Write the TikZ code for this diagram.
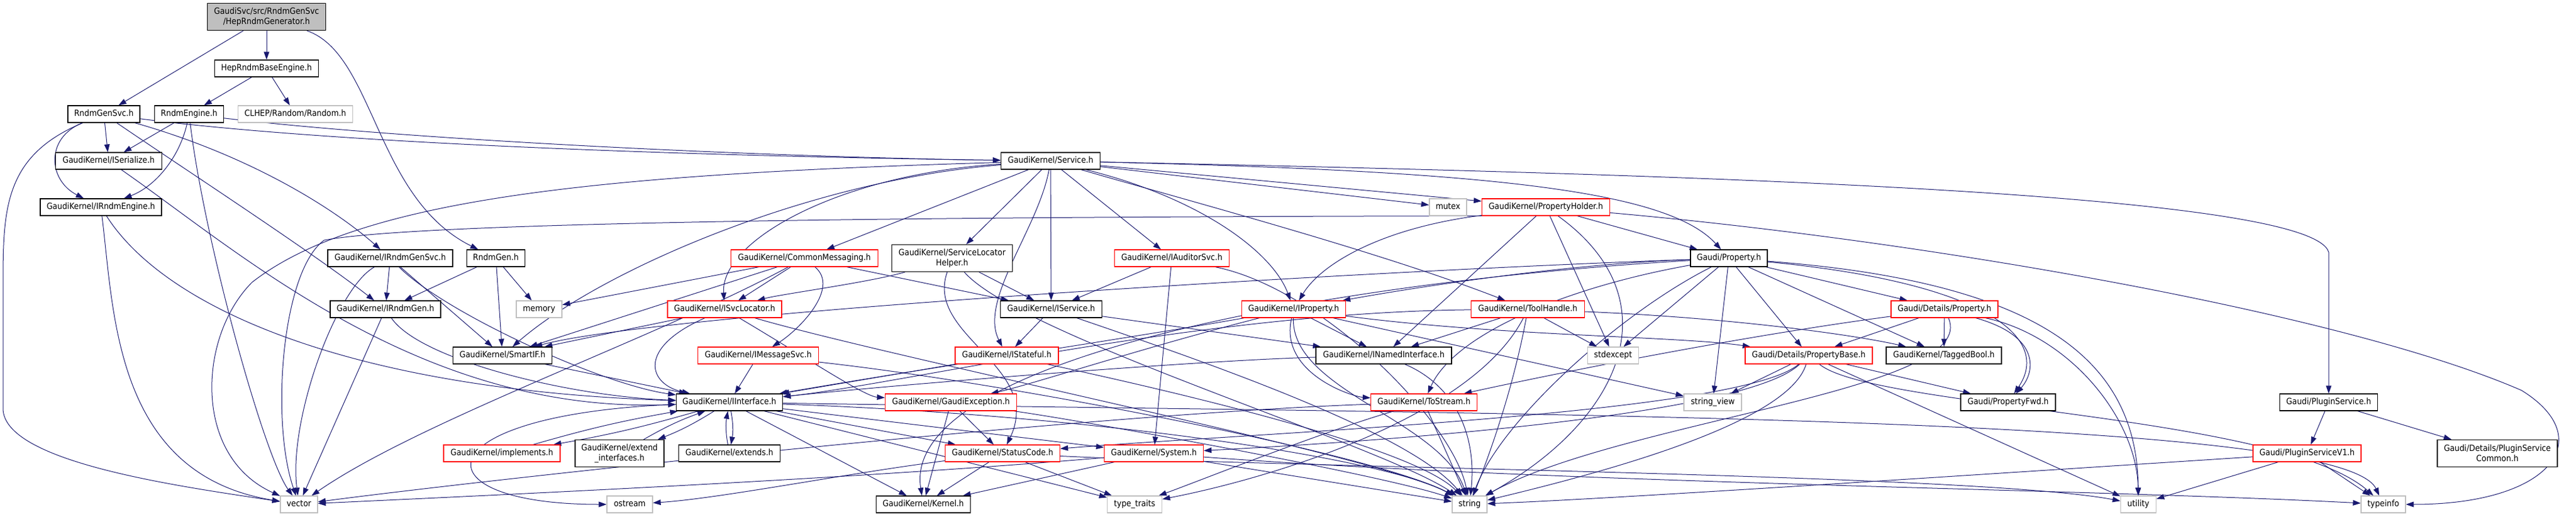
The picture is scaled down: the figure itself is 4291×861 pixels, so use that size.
\documentclass[tikz,border=0pt]{standalone}
\usepackage{fontspec}
\setmainfont{DejaVu Sans}[FakeStretch=0.9]
\usetikzlibrary{arrows.meta,backgrounds}
\definecolor{edgec}{HTML}{191970}
\definecolor{grayb}{HTML}{BFBFBF}
\definecolor{redb}{HTML}{FF0000}
\newcommand{\gfont}{\fontsize{14.3}{16.7}\selectfont}
\begin{document}
\begin{tikzpicture}[x=1pt,y=-1pt,
  nbase/.style={line width=1.2pt, fill=white, inner sep=0pt, font=\gfont},
  nd/.style={nbase, draw=black, minimum height=28pt, text height=10.5pt, text depth=3pt},
  nred/.style={nd, draw=redb},
  ngray/.style={nd, draw=grayb},
  ndtwo/.style={nbase, draw=black, minimum height=45pt, align=center},
  dep/.style={draw=edgec, line width=1pt, -{Triangle[length=13pt,width=9pt]}},
]
\useasboundingbox (0,0) rectangle (4291,861);

\node[ndtwo, fill=grayb, minimum width=197pt] (top) at (444,28) {GaudiSvc/src/RndmGenSvc\\/HepRndmGenerator.h};
\node[nd, minimum width=173pt] (hbe) at (444,114) {HepRndmBaseEngine.h};
\node[nd, minimum width=120pt] (rgs) at (173,190) {RndmGenSvc.h};
\node[nd, minimum width=115pt] (reng) at (315,190) {RndmEngine.h};
\node[ngray, minimum width=191pt] (clhep) at (492,190) {CLHEP/Random/Random.h};
\node[nd, minimum width=177pt] (iser) at (181,268) {GaudiKernel/ISerialize.h};
\node[nd, minimum width=202pt] (ireng) at (168,345) {GaudiKernel/IRndmEngine.h};
\node[nd, minimum width=208pt] (irgs) at (650,430) {GaudiKernel/IRndmGenSvc.h};
\node[nd, minimum width=97pt] (rgen) at (826,430) {RndmGen.h};
\node[nd, minimum width=184pt] (irgen) at (642,515) {GaudiKernel/IRndmGen.h};
\node[ngray, minimum width=62pt] (vector) at (498,840) {vector};
\node[ngray, minimum width=76pt] (memory) at (898,515) {memory};
\node[nred, minimum width=190pt] (isvcloc) at (1207,515) {GaudiKernel/ISvcLocator.h};
\node[nred, minimum width=245pt] (cmsg) at (1340,430) {GaudiKernel/CommonMessaging.h};
\node[nd, minimum width=165pt] (smartif) at (837,592) {GaudiKernel/SmartIF.h};
\node[nred, minimum width=201pt] (imsg) at (1263,592) {GaudiKernel/IMessageSvc.h};
\node[nd, minimum width=177pt] (iint) at (1215,670) {GaudiKernel/IInterface.h};
\node[nred, minimum width=194pt] (impl) at (836,755) {GaudiKernel/implements.h};
\node[ndtwo, minimum width=148pt] (extif) at (1032,755) {GaudiKernel/extend\\\_interfaces.h};
\node[nd, minimum width=169pt] (extends) at (1215,755) {GaudiKernel/extends.h};
\node[ngray, minimum width=76pt] (ostream) at (1049,840) {ostream};
\node[nd, minimum width=165pt] (service) at (1750,268) {GaudiKernel/Service.h};
\node[ndtwo, minimum width=201pt] (slh) at (1586,430) {GaudiKernel/ServiceLocator\\Helper.h};
\node[nred, minimum width=191pt] (iaud) at (1952,430) {GaudiKernel/IAuditorSvc.h};
\node[nd, minimum width=169pt] (iservice) at (1751,515) {GaudiKernel/IService.h};
\node[nred, minimum width=172pt] (istate) at (1677,592) {GaudiKernel/IStateful.h};
\node[nred, minimum width=219pt] (gexc) at (1584,670) {GaudiKernel/GaudiException.h};
\node[nred, minimum width=191pt] (sc) at (1670,755) {GaudiKernel/StatusCode.h};
\node[nred, minimum width=165pt] (system) at (1922,755) {GaudiKernel/System.h};
\node[nd, minimum width=157pt] (kernel) at (1538,840) {GaudiKernel/Kernel.h};
\node[ngray, minimum width=91pt] (typetraits) at (1890,840) {type\_traits};
\node[nred, minimum width=173pt] (iprop) at (2155,515) {GaudiKernel/IProperty.h};
\node[ngray, minimum width=62pt] (mutex) at (2412,345) {mutex};
\node[nred, minimum width=213pt] (pholder) at (2575,345) {GaudiKernel/PropertyHolder.h};
\node[nred, minimum width=189pt] (toolh) at (2545,515) {GaudiKernel/ToolHandle.h};
\node[nd, minimum width=226pt] (inamed) at (2305,592) {GaudiKernel/INamedInterface.h};
\node[ngray, minimum width=85pt] (stdexcept) at (2687,592) {stdexcept};
\node[nred, minimum width=177pt] (tostream) at (2372,670) {GaudiKernel/ToStream.h};
\node[ngray, minimum width=58pt] (string) at (2448,840) {string};
\node[nd, minimum width=128pt] (gprop) at (2880,430) {Gaudi/Property.h};
\node[nred, minimum width=178pt] (dprop) at (3239,515) {Gaudi/Details/Property.h};
\node[nred, minimum width=212pt] (pbase) at (3013,592) {Gaudi/Details/PropertyBase.h};
\node[nd, minimum width=192pt] (tagged) at (3238,592) {GaudiKernel/TaggedBool.h};
\node[ngray, minimum width=96pt] (sview) at (2853,670) {string\_view};
\node[nd, minimum width=158pt] (pfwd) at (3345,670) {Gaudi/PropertyFwd.h};
\node[ngray, minimum width=59pt] (utility) at (3562,840) {utility};
\node[nd, minimum width=163pt] (plugsvc) at (3879,670) {Gaudi/PluginService.h};
\node[nred, minimum width=180pt] (plugv1) at (3843,755) {Gaudi/PluginServiceV1.h};
\node[ndtwo, minimum width=200pt] (plugcommon) at (4160,755) {Gaudi/Details/PluginService\\Common.h};
\node[ngray, minimum width=74pt] (typeinfo) at (3970,840) {typeinfo};

\begin{pgfonlayer}{background}
\fill[white] (0,0) rectangle (4291,861);
% top
\draw[dep] (top) -- (rgs);
\draw[dep] (top) -- (hbe);
\draw[dep] (top) .. controls (624,90) and (624,330) .. (rgen);
\draw[dep] (hbe) -- (reng);
\draw[dep] (hbe) -- (clhep);
% RndmGenSvc
\draw[dep] (rgs) -- (iser);
\draw[dep] (rgs) .. controls (75,230) and (80,300) .. (ireng);
\draw[dep] (rgs) .. controls (5,260) and (5,350) .. (5,480) -- (5,680) .. controls (5,770) and (300,810) .. (vector);
\draw[dep] (rgs) .. controls (420,260) and (560,350) .. (irgs);
\draw[dep] (rgs) .. controls (320,290) and (520,420) .. (irgen);
\draw[dep] (rgs) .. controls (600,245) and (1300,262) .. (service);
% RndmEngine
\draw[dep] (reng) -- (iser);
\draw[dep] (reng) .. controls (300,260) and (260,310) .. (ireng);
\draw[dep] (reng) .. controls (340,400) and (440,760) .. (vector);
\draw[dep] (reng) .. controls (700,235) and (1300,262) .. (service);
% interfaces of the Rndm part
\draw[dep] (iser) .. controls (400,420) and (700,690) .. (iint);
\draw[dep] (ireng) .. controls (280,520) and (600,650) .. (iint);
\draw[dep] (ireng) .. controls (190,520) and (190,790) .. (vector);
\draw[dep] (irgs) -- (irgen);
\draw[dep] (irgs) .. controls (560,480) and (480,700) .. (vector);
\draw[dep] (irgs) -- (smartif);
\draw[dep] (irgs) .. controls (740,520) and (1000,640) .. (iint);
\draw[dep] (irgen) -- (vector);
\draw[dep] (irgen) .. controls (700,600) and (950,660) .. (iint);
\draw[dep] (rgen) -- (irgen);
\draw[dep] (rgen) -- (smartif);
\draw[dep] (rgen) -- (memory);
\draw[dep] (smartif) -- (iint);
% IInterface
\draw[dep] (iint) to[bend left=3] (impl);
\draw[dep] (impl) to[bend left=3] (iint);
\draw[dep] (iint) to[bend left=5] (extif);
\draw[dep] (extif) to[bend left=5] (iint);
\draw[dep] (iint) to[bend left=10] (extends);
\draw[dep] (extends) to[bend left=10] (iint);
\draw[dep] (iint) .. controls (700,690) and (690,840) .. (ostream);
\draw[dep] (iint) -- (kernel);
\draw[dep] (iint) -- (sc);
\draw[dep] (iint) -- (system);
\draw[dep] (iint) -- (typetraits);
\draw[dep] (iint) .. controls (1800,690) and (2300,760) .. (string);
\draw[dep] (iint) .. controls (2500,690) and (3900,690) .. (typeinfo);
% IMessageSvc, ISvcLocator, CommonMessaging
\draw[dep] (imsg) -- (iint);
\draw[dep] (imsg) .. controls (1700,640) and (2300,760) .. (string);
\draw[dep] (isvcloc) -- (smartif);
\draw[dep] (isvcloc) .. controls (1060,580) and (1080,640) .. (iint);
\draw[dep] (isvcloc) .. controls (1500,600) and (2300,760) .. (string);
\draw[dep] (isvcloc) .. controls (1350,600) and (1440,660) .. (gexc);
\draw[dep] (cmsg) -- (memory);
\draw[dep] (cmsg) -- (smartif);
\draw[dep] (cmsg) -- (isvcloc);
\draw[dep] (cmsg) .. controls (1400,480) and (1330,550) .. (imsg);
\draw[dep] (cmsg) -- (iservice);
\draw[dep] (cmsg) .. controls (1100,560) and (700,700) .. (vector);
% Service
\draw[dep] (service) -- (cmsg);
\draw[dep] (service) -- (slh);
\draw[dep] (service) -- (iaud);
\draw[dep] (service) -- (iservice);
\draw[dep] (service) .. controls (1730,380) and (1630,500) .. (istate);
\draw[dep] (service) .. controls (1400,290) and (1200,400) .. (isvcloc);
\draw[dep] (service) .. controls (1350,300) and (1000,450) .. (smartif);
\draw[dep] (service) .. controls (1000,290) and (600,330) .. (420,470) .. controls (330,560) and (320,760) .. (vector);
\draw[dep] (service) .. controls (2000,330) and (2120,420) .. (iprop);
\draw[dep] (service) .. controls (2000,340) and (2300,420) .. (toolh);
\draw[dep] (service) -- (mutex);
\draw[dep] (service) -- (pholder);
\draw[dep] (service) .. controls (2500,285) and (2780,320) .. (gprop);
\draw[dep] (service) .. controls (2800,290) and (3850,320) .. (3879,420) -- (plugsvc);
% ServiceLocatorHelper, IAuditorSvc, IService, IStateful
\draw[dep] (slh) .. controls (1450,470) and (1300,490) .. (isvcloc);
\draw[dep] (slh) -- (iservice);
\draw[dep] (slh) .. controls (1540,560) and (1740,610) .. (sc);
\draw[dep] (slh) .. controls (1700,560) and (2300,740) .. (string);
\draw[dep] (iaud) -- (iservice);
\draw[dep] (iaud) -- (system);
\draw[dep] (iaud) .. controls (2200,480) and (2420,700) .. (string);
\draw[dep] (iservice) -- (istate);
\draw[dep] (iservice) -- (inamed);
\draw[dep] (iservice) .. controls (2000,600) and (2350,720) .. (string);
\draw[dep] (istate) -- (iint);
\draw[dep] (istate) .. controls (1900,640) and (2350,740) .. (string);
% GaudiException, StatusCode, System
\draw[dep] (gexc) -- (sc);
\draw[dep] (gexc) -- (kernel);
\draw[dep] (gexc) .. controls (1800,700) and (2300,790) .. (string);
\draw[dep] (sc) -- (kernel);
\draw[dep] (sc) -- (typetraits);
\draw[dep] (sc) .. controls (1400,790) and (1200,830) .. (ostream);
\draw[dep] (sc) .. controls (2200,780) and (3300,790) .. (utility);
\draw[dep] (system) -- (kernel);
\draw[dep] (system) -- (string);
\draw[dep] (system) .. controls (1400,800) and (700,830) .. (vector);
\draw[dep] (system) .. controls (2600,805) and (3500,815) .. (typeinfo);
% IProperty
\draw[dep] (iprop) .. controls (1900,560) and (1500,620) .. (iint);
\draw[dep] (iprop) .. controls (2130,620) and (2250,660) .. (tostream);
\draw[dep] (iprop) .. controls (2150,650) and (2400,700) .. (string);
\draw[dep] (iprop) -- (inamed);
\draw[dep] (iprop) -- (sview);
\draw[dep] (iprop) .. controls (1900,580) and (1720,640) .. (gexc);
\draw[dep] (iprop) .. controls (2500,560) and (2800,560) .. (pbase);
% ToolHandle
\draw[dep] (toolh) -- (inamed);
\draw[dep] (toolh) -- (stdexcept);
\draw[dep] (toolh) .. controls (2520,650) and (2480,760) .. (string);
\draw[dep] (toolh) .. controls (2900,530) and (3100,560) .. (tagged);
\draw[dep] (toolh) .. controls (2450,700) and (2100,800) .. (typetraits);
\draw[dep] (toolh) .. controls (2000,520) and (1500,640) .. (iint);
% PropertyHolder
\draw[dep] (pholder.south west) .. controls (1500,361) and (700,370) .. (540,400) .. controls (470,450) and (450,700) .. (vector);
\draw[dep] (pholder) .. controls (2300,380) and (2200,440) .. (iprop);
\draw[dep] (pholder) -- (inamed);
\draw[dep] (pholder) -- (stdexcept);
\draw[dep] (pholder) .. controls (2790,500) and (2700,700) .. (string);
\draw[dep] (pholder) -- (gprop);
\draw[dep] (pholder) .. controls (3200,400) and (3900,520) .. (4200,650) .. controls (4330,730) and (4250,840) .. (typeinfo);
% Gaudi/Property
\draw[dep] (gprop) -- (dprop);
\draw[dep] (gprop) -- (pbase);
\draw[dep] (gprop) -- (tagged);
\draw[dep] (gprop) -- (sview);
\draw[dep] (gprop) -- (stdexcept);
\draw[dep] (gprop) .. controls (3300,470) and (3420,560) .. (pfwd);
\draw[dep] (gprop) .. controls (3400,470) and (3560,600) .. (utility);
\draw[dep] (gprop) .. controls (2700,520) and (2500,700) .. (string);
\draw[dep] (gprop) .. controls (2600,440) and (2350,480) .. (iprop);
\draw[dep] (gprop) .. controls (2300,450) and (1100,520) .. (smartif);
\draw[dep] (gprop) .. controls (2600,480) and (2420,560) .. (tostream);
\draw[dep] (gprop) .. controls (2200,470) and (1500,600) .. (kernel);
% Details/Property
\draw[dep] (dprop) -- (pbase);
\draw[dep] (dprop) -- (tagged);
\draw[dep] (dprop) .. controls (3400,560) and (3390,620) .. (pfwd);
\draw[dep] (dprop) .. controls (2900,560) and (2600,620) .. (tostream);
\draw[dep] (dprop) .. controls (3300,650) and (2700,700) .. (string);
\draw[dep] (dprop) .. controls (3450,560) and (3560,700) .. (utility);
% PropertyBase
\draw[dep] (pbase) -- (sview);
\draw[dep] (pbase) -- (pfwd);
\draw[dep] (pbase) -- (utility);
\draw[dep] (pbase) .. controls (2980,700) and (2700,780) .. (string);
\draw[dep] (pbase) .. controls (3120,680) and (3800,690) .. (typeinfo);
\draw[dep] (pbase) .. controls (2900,700) and (2200,740) .. (system);
\draw[dep] (pbase) .. controls (2900,690) and (2100,720) .. (sc);
% PluginService
\draw[dep] (plugsvc) -- (plugv1);
\draw[dep] (plugsvc) -- (plugcommon);
\draw[dep] (plugv1) -- (utility);
\draw[dep] (plugv1) -- (typeinfo);
\draw[dep] (plugv1) .. controls (3300,790) and (2700,830) .. (string);
% ToStream, INamedInterface
\draw[dep] (tostream) -- (string);
\draw[dep] (tostream) .. controls (1800,690) and (800,800) .. (vector);
\draw[dep] (tostream) .. controls (2200,720) and (2000,800) .. (typetraits);
\draw[dep] (inamed) .. controls (2000,600) and (1500,640) .. (iint);
\draw[dep] (inamed) .. controls (2420,640) and (2460,720) .. (string);
\end{pgfonlayer}
\end{tikzpicture}
\end{document}
